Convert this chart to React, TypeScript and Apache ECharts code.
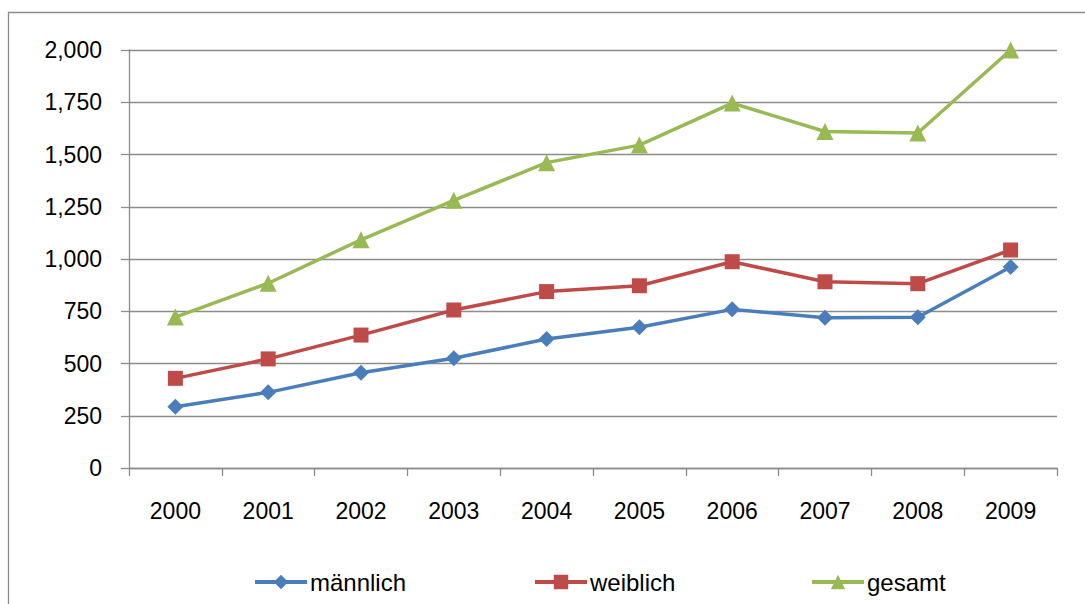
import React, { useEffect, useRef } from "react";
import * as echarts from "echarts";

const years = ["2000", "2001", "2002", "2003", "2004", "2005", "2006", "2007", "2008", "2009"];
const maennlich = [293, 362, 456, 525, 617, 673, 759, 719, 721, 962];
const weiblich = [429, 522, 636, 756, 844, 872, 987, 891, 882, 1043];
const gesamt = [722, 884, 1092, 1281, 1461, 1545, 1746, 1610, 1603, 2000];
const seriesNames = ["männlich", "weiblich", "gesamt"];

const FONT = "'Liberation Sans', Arial, sans-serif";

export default function App() {
  const ref = useRef<HTMLDivElement>(null);
  useEffect(() => {
    if (!ref.current) return;
    const chart = echarts.init(ref.current, undefined, { renderer: "svg" });
    const mk = (name: string, data: number[], color: string, symbol: string, size: number) => ({
      name,
      type: "line",
      data,
      symbol,
      symbolSize: size,
      clip: false,
      lineStyle: { color, width: 3.5 },
      itemStyle: { color },
      color,
    });
    const legendLefts = [248, 528, 805];
    chart.setOption({
      animation: false,
      backgroundColor: "#ffffff",
      textStyle: { fontFamily: FONT },
      graphic: [
        {
          type: "rect",
          shape: { x: 8.5, y: 12.5, width: 1100, height: 620 },
          style: { fill: "none", stroke: "#8c8c8c", lineWidth: 1.3 },
          silent: true,
          z: -10,
        },
      ],
      grid: { left: 129, top: 50, right: 28, bottom: 136 },
      legend: seriesNames.map((n, i) => ({
        left: legendLefts[i],
        top: 565,
        itemWidth: 52,
        itemHeight: 18,
        itemGap: 4,
        lineStyle: { width: 4 },
        textStyle: { fontSize: 24, color: "#000", fontFamily: FONT, padding: [0, 0, 0, -2] },
        data: [n],
      })),
      xAxis: {
        type: "category",
        data: years,
        boundaryGap: true,
        axisLine: { lineStyle: { color: "#8c8c8c", width: 1.3 } },
        axisTick: { show: true, length: 8, lineStyle: { color: "#8c8c8c", width: 1.3 } },
        axisLabel: { fontSize: 23, color: "#000", margin: 31, fontFamily: FONT },
      },
      yAxis: {
        type: "value",
        min: 0,
        max: 2000,
        interval: 250,
        axisLine: { show: true, lineStyle: { color: "#8c8c8c", width: 1.3 } },
        axisTick: { show: true, length: 8, lineStyle: { color: "#8c8c8c", width: 1.3 } },
        splitLine: { lineStyle: { color: "#8c8c8c", width: 1.3 } },
        axisLabel: {
          fontSize: 23,
          color: "#000",
          margin: 27,
          fontFamily: FONT,
          formatter: (v: number) => v.toLocaleString("en-US"),
        },
      },
      series: [
        mk("männlich", maennlich, "#4a7ebb", "diamond", 16),
        mk("weiblich", weiblich, "#be4b48", "rect", 15),
        mk("gesamt", gesamt, "#98b954", "triangle", 17),
      ],
    });
    return () => chart.dispose();
  }, []);
  return (
    <div
      ref={ref}
      style={{ position: "fixed", left: 0, top: 0, width: 1085, height: 604 }}
    />
  );
}
